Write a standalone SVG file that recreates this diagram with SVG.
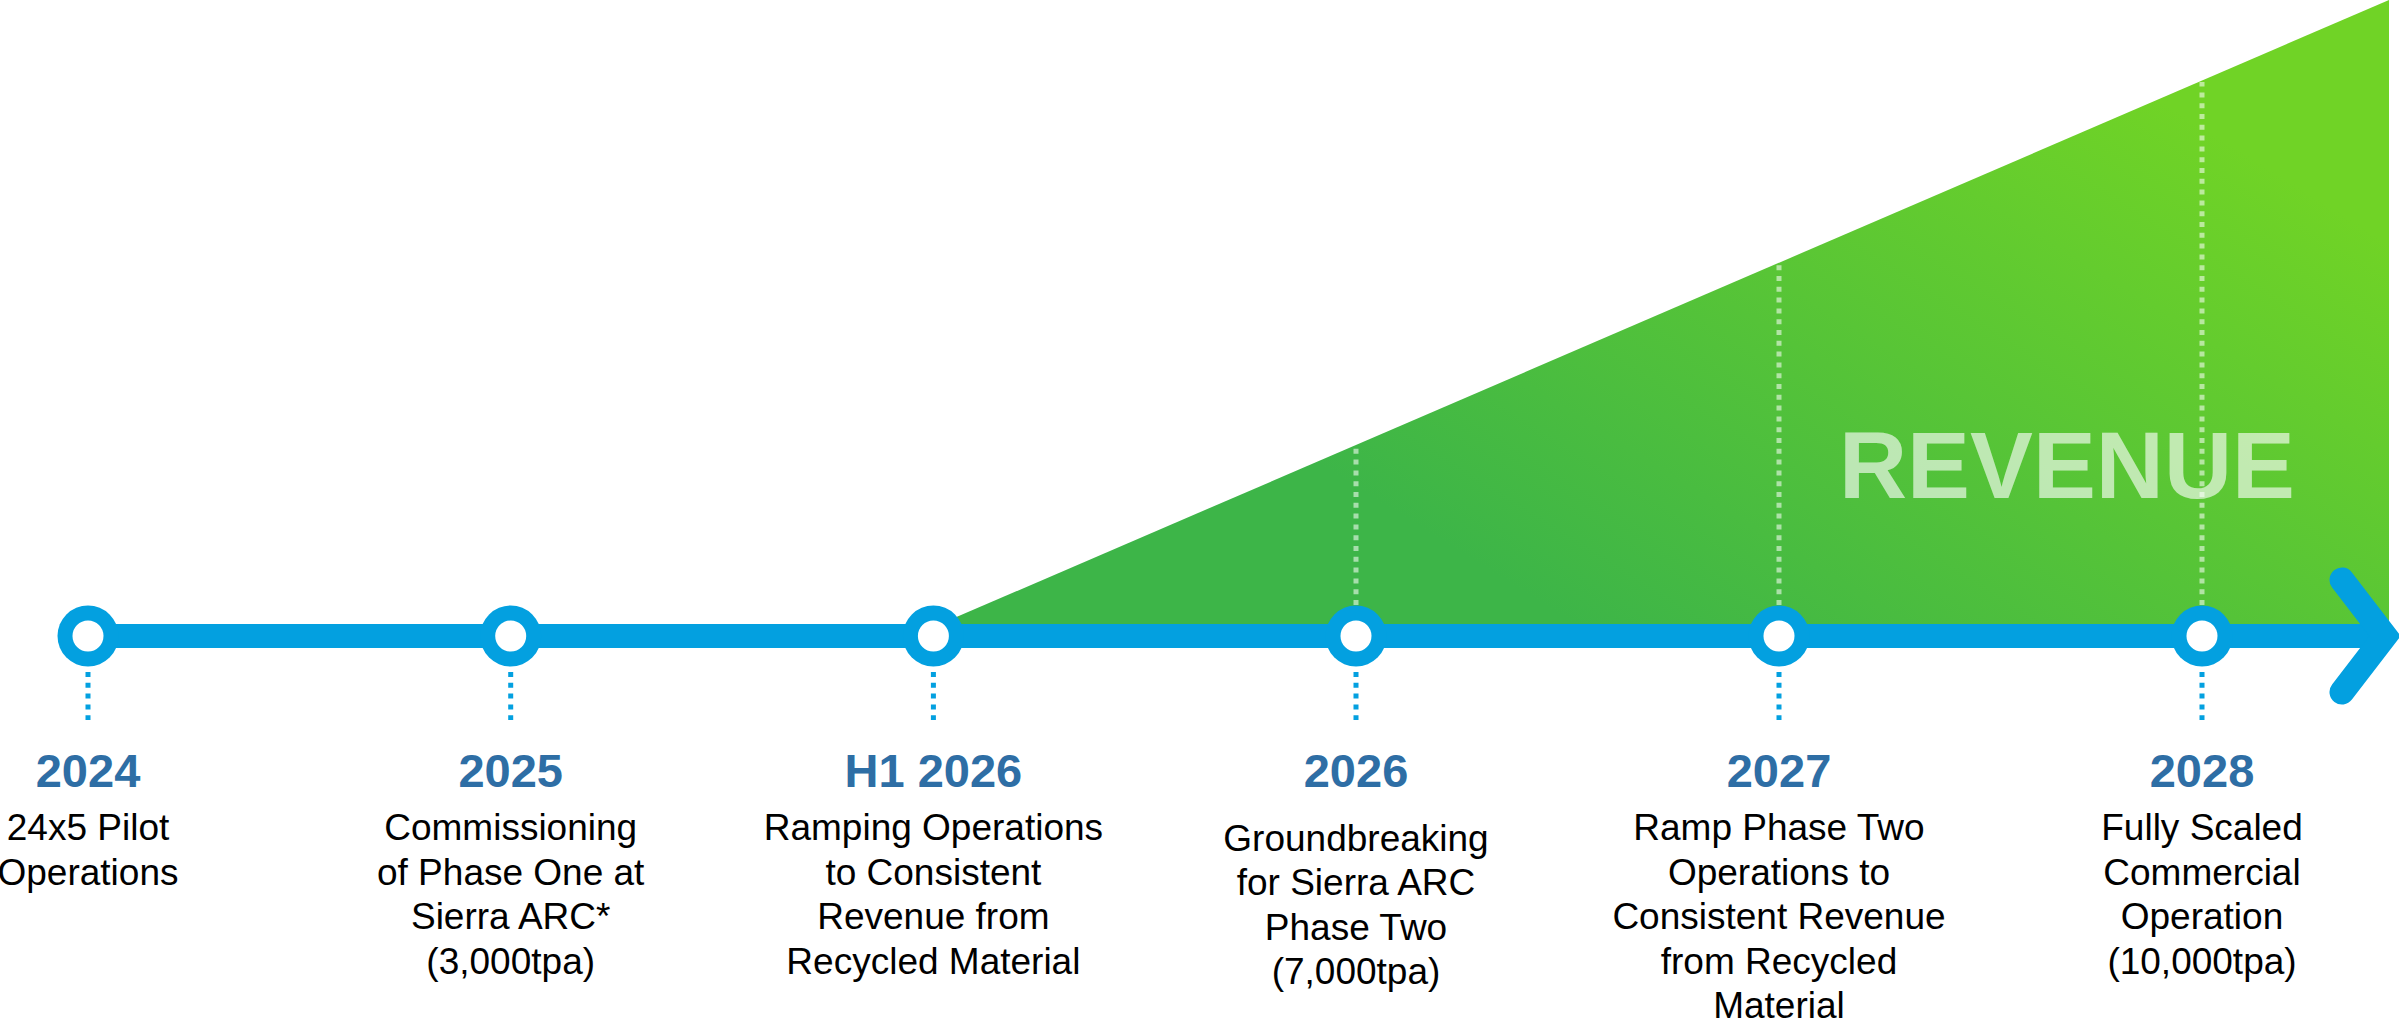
<svg xmlns="http://www.w3.org/2000/svg" width="2399" height="1023" viewBox="0 0 2399 1023">
  <defs>
    <linearGradient id="revenueFill" gradientUnits="userSpaceOnUse" x1="1600" y1="640" x2="2000" y2="0">
      <stop offset="0" stop-color="#3db548"/>
      <stop offset="1" stop-color="#70d326"/>
    </linearGradient>
    <style>
      .year { font-family: "Liberation Sans", Arial, sans-serif; font-weight: bold; font-size: 47px; fill: #2e6ea5; text-anchor: middle; }
      .desc { font-family: "Liberation Sans", Arial, sans-serif; font-size: 37px; fill: #000; text-anchor: middle; }
      .tick { stroke: #03a0e0; stroke-width: 5; stroke-dasharray: 5 5.8; fill: none; }
      .guide { stroke: #ffffff; stroke-opacity: 0.55; stroke-width: 5; stroke-dasharray: 5 5.8; fill: none; }
      .ring { fill: #03a0e0; }
      .hole { fill: #ffffff; }
      .rail { stroke: #03a0e0; stroke-width: 24; fill: none; }
    </style>
  </defs>

  <!-- revenue wedge rising from H1 2026 -->
  <g id="revenue-area">
    <polygon points="925,630.6 2389,0 2389,636 925,636" fill="url(#revenueFill)"/>
    <text x="2067" y="498" font-family="Liberation Sans, Arial, sans-serif" font-weight="bold" font-size="94" fill="#ffffff" fill-opacity="0.62" text-anchor="middle" textLength="456" lengthAdjust="spacingAndGlyphs">REVENUE</text>
    <line class="guide" x1="1356" y1="605" x2="1356" y2="447"/>
    <line class="guide" x1="1779" y1="605" x2="1779" y2="264"/>
    <line class="guide" x1="2202" y1="605" x2="2202" y2="82"/>
  </g>

  <!-- timeline rail and arrowhead -->
  <g id="connectors">
    <line class="rail" x1="88" y1="636" x2="2383" y2="636"/>
    <polyline points="2342,580 2385,636 2342,692" fill="none" stroke="#03a0e0" stroke-width="25" stroke-linecap="round" stroke-linejoin="miter"/>
  </g>

  <g id="node-2024">
    <circle class="ring" cx="88" cy="636" r="30.5"/>
    <circle class="hole" cx="88" cy="636" r="15.5"/>
    <line class="tick" x1="88" y1="672" x2="88" y2="720"/>
    <text class="year" x="88" y="787">2024</text>
    <text class="desc" x="88" y="840">24x5 Pilot</text>
    <text class="desc" x="88" y="884.5">Operations</text>
  </g>

  <g id="node-2025">
    <circle class="ring" cx="510.7" cy="636" r="30.5"/>
    <circle class="hole" cx="510.7" cy="636" r="15.5"/>
    <line class="tick" x1="510.7" y1="672" x2="510.7" y2="720"/>
    <text class="year" x="510.7" y="787">2025</text>
    <text class="desc" x="510.7" y="840">Commissioning</text>
    <text class="desc" x="510.7" y="884.5">of Phase One at</text>
    <text class="desc" x="510.7" y="929">Sierra ARC*</text>
    <text class="desc" x="510.7" y="973.5">(3,000tpa)</text>
  </g>

  <g id="node-h1-2026">
    <circle class="ring" cx="933.4" cy="636" r="30.5"/>
    <circle class="hole" cx="933.4" cy="636" r="15.5"/>
    <line class="tick" x1="933.4" y1="672" x2="933.4" y2="720"/>
    <text class="year" x="933.4" y="787">H1 2026</text>
    <text class="desc" x="933.4" y="840">Ramping Operations</text>
    <text class="desc" x="933.4" y="884.5">to Consistent</text>
    <text class="desc" x="933.4" y="929">Revenue from</text>
    <text class="desc" x="933.4" y="973.5">Recycled Material</text>
  </g>

  <g id="node-2026">
    <circle class="ring" cx="1356" cy="636" r="30.5"/>
    <circle class="hole" cx="1356" cy="636" r="15.5"/>
    <line class="tick" x1="1356" y1="672" x2="1356" y2="720"/>
    <text class="year" x="1356" y="787">2026</text>
    <text class="desc" x="1356" y="850.5">Groundbreaking</text>
    <text class="desc" x="1356" y="895">for Sierra ARC</text>
    <text class="desc" x="1356" y="939.5">Phase Two</text>
    <text class="desc" x="1356" y="984">(7,000tpa)</text>
  </g>

  <g id="node-2027">
    <circle class="ring" cx="1779" cy="636" r="30.5"/>
    <circle class="hole" cx="1779" cy="636" r="15.5"/>
    <line class="tick" x1="1779" y1="672" x2="1779" y2="720"/>
    <text class="year" x="1779" y="787">2027</text>
    <text class="desc" x="1779" y="840">Ramp Phase Two</text>
    <text class="desc" x="1779" y="884.5">Operations to</text>
    <text class="desc" x="1779" y="929">Consistent Revenue</text>
    <text class="desc" x="1779" y="973.5">from Recycled</text>
    <text class="desc" x="1779" y="1018">Material</text>
  </g>

  <g id="node-2028">
    <circle class="ring" cx="2202" cy="636" r="30.5"/>
    <circle class="hole" cx="2202" cy="636" r="15.5"/>
    <line class="tick" x1="2202" y1="672" x2="2202" y2="720"/>
    <text class="year" x="2202" y="787">2028</text>
    <text class="desc" x="2202" y="840">Fully Scaled</text>
    <text class="desc" x="2202" y="884.5">Commercial</text>
    <text class="desc" x="2202" y="929">Operation</text>
    <text class="desc" x="2202" y="973.5">(10,000tpa)</text>
  </g>
</svg>
